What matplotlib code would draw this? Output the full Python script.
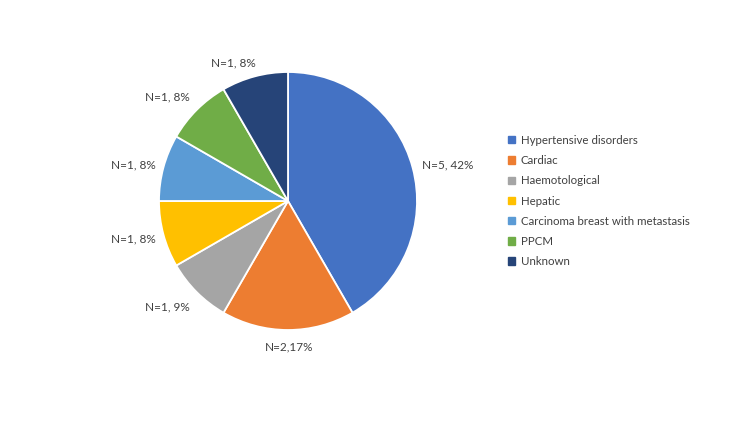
import matplotlib
matplotlib.use('Agg')
import matplotlib.pyplot as plt
import matplotlib.patches as mpatches

plt.rcParams['font.family'] = ['Lato', 'DejaVu Sans']

causes = ['Hypertensive disorders', 'Cardiac', 'Haemotological', 'Hepatic',
          'Carcinoma breast with metastasis', 'PPCM', 'Unknown']
counts = [5, 2, 1, 1, 1, 1, 1]
labels = ['N=5, 42%', 'N=2,17%', 'N=1, 9%', 'N=1, 8%', 'N=1, 8%', 'N=1, 8%', 'N=1, 8%']
colors = ['#4472C4', '#ED7D31', '#A5A5A5', '#FFC000', '#5B9BD5', '#70AD47', '#264478']

# label centres in pixels (as placed in the original chart)
label_px = [(448, 165), (289, 347), (167, 307), (133, 239), (133, 165), (167, 97), (233, 63)]

W, H = 750, 422
cx, cy, r = 288, 201, 129

fig = plt.figure(figsize=(7.5, 4.22), dpi=100)
ax = fig.add_axes([(cx - r) / W, (H - cy - r) / H, 2 * r / W, 2 * r / H])
wedges, _ = ax.pie(counts, colors=colors, startangle=90, counterclock=False,
                   wedgeprops=dict(edgecolor='white', linewidth=1.3))
ax.set_xlim(-1, 1)
ax.set_ylim(-1, 1)
ax.set_aspect('equal')

for lab, (px, py) in zip(labels, label_px):
    ax.text((px - cx) / r, (cy - py) / r, lab, ha='center', va='center',
            fontsize=8.5, color='#404040', clip_on=False)

handles = [mpatches.Patch(color=c, label=n) for c, n in zip(colors, causes)]
fig.legend(handles=handles, loc='center left', bbox_to_anchor=(508 / W, 1 - 201 / H),
           frameon=False, fontsize=8.3, handlelength=0.6, handleheight=0.6,
           handletextpad=0.5, labelspacing=0.8, borderpad=0, borderaxespad=0,
           labelcolor='#404040')

fig.savefig('out.png', dpi=100)
